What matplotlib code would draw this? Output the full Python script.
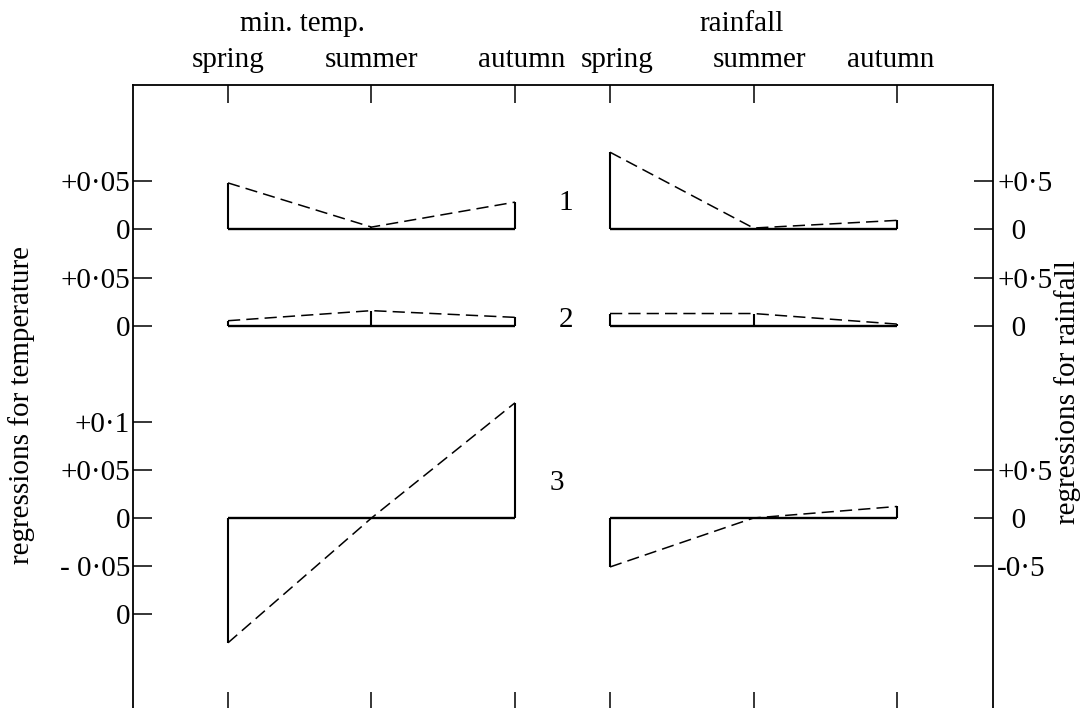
import numpy as np
import matplotlib.pyplot as plt
from matplotlib.transforms import ScaledTranslation

plt.rcParams['font.family'] = ['Liberation Serif', 'DejaVu Serif']

# Data
seasons = ['spring', 'summer', 'autumn']
temp_coef = [[0.048, 0.002, 0.028],
             [0.0055, 0.016, 0.009],
             [-0.13, 0.0, 0.12]]
rain_coef = [[0.80, 0.01, 0.09],
             [0.13, 0.13, 0.02],
             [-0.51, 0.0, 0.12]]
temp_ticks = [[0, 0.05], [0, 0.05], [-0.1, -0.05, 0, 0.05, 0.1]]
temp_ticklabels = [['0', '+0\u00b705'], ['0', '+0\u00b705'],
                   ['0', '- 0\u00b705', '0', '+0\u00b705', '+0\u00b71']]
rain_ticks = [[0, 0.5], [0, 0.5], [-0.5, 0, 0.5]]
rain_ticklabels = [['\u20020', '+0\u00b75'], ['\u20020', '+0\u00b75'],
                   ['-0\u00b75', '\u20020', '+0\u00b75']]
panel_names = ['1', '2', '3']

# Layout (pixels)
W, H = 1091, 708
frame_l, frame_r, frame_t, frame_b = 133, 993, 85, 735
mid = 562
row_base = [229, 326, 518]
temp_px = 960.0   # px per unit of temperature regression
rain_px = 96.0    # px per unit of rainfall regression
dx = 143.5
x0_left, x0_right = 228, 610
label_shift = [[0, 0, 7], [7, 6, -6]]  # small offsets of the season labels (px)
fs = 21

fig = plt.figure(figsize=(W / 100, H / 100), dpi=100)


def fig_rect(l, r, t, b):
    return [l / W, 1 - b / H, (r - l) / W, (b - t) / H]


# outer frame
frame = fig.add_axes(fig_rect(frame_l, frame_r, frame_t, frame_b))
frame.set_xticks([])
frame.set_yticks([])
for s in frame.spines.values():
    s.set_linewidth(1.3)
frame.patch.set_alpha(0)

tick_kw = dict(direction='in', length=13.5, width=1.1, labelsize=fs)

for side in range(2):
    for row in range(3):
        if side == 0:
            rect = fig_rect(frame_l, mid, frame_t, frame_b)
            px = temp_px
            vals = temp_coef[row]
            x0 = x0_left
            lo, hi = frame_l, mid
        else:
            rect = fig_rect(mid, frame_r, frame_t, frame_b)
            px = rain_px
            vals = rain_coef[row]
            x0 = x0_right
            lo, hi = mid, frame_r
        ax = fig.add_axes(rect)
        ax.patch.set_alpha(0)
        for s in ax.spines.values():
            s.set_visible(False)
        base = row_base[row]
        ax.set_ylim(-(frame_b - base) / px, (base - frame_t) / px)
        ax.set_xlim(-(x0 - lo) / dx, (hi - x0) / dx)

        xs = np.arange(len(seasons))
        ax.plot([xs[0], xs[-1]], [0, 0], color='black', lw=1.7, solid_capstyle='butt')
        ax.vlines(xs, 0, vals, colors='black', lw=1.5)
        ax.plot(xs, vals, color='black', lw=1.1, linestyle=(0, (8, 4)))

        if side == 0:
            ax.set_yticks(temp_ticks[row])
            ax.set_yticklabels(temp_ticklabels[row])
            ax.tick_params(axis='y', pad=2, **tick_kw)
        else:
            ax.yaxis.tick_right()
            ax.set_yticks(rain_ticks[row])
            ax.set_yticklabels(rain_ticklabels[row])
            ax.tick_params(axis='y', pad=3, **tick_kw)

        if row == 0:
            ax.xaxis.tick_top()
            ax.set_xticks(xs)
            ax.set_xticklabels(seasons)
            ax.tick_params(axis='x', direction='in', length=13, width=1.1,
                           labelsize=fs, pad=8.5)
            for tick, off in zip(ax.xaxis.get_major_ticks(), label_shift[side]):
                tick.label2.set_transform(tick.label2.get_transform() +
                                          ScaledTranslation(off / 100, 0, fig.dpi_scale_trans))
        elif row == 2:
            ax.set_xticks(xs)
            ax.set_xticklabels([])
            ax.tick_params(axis='x', direction='in', length=31, width=1.1)
        else:
            ax.set_xticks([])

# panel numbers
fig.text(566 / W, 1 - 203 / H, panel_names[0], fontsize=fs, ha='center', va='center')
fig.text(566 / W, 1 - 320 / H, panel_names[1], fontsize=fs, ha='center', va='center')
fig.text(557 / W, 1 - 483 / H, panel_names[2], fontsize=fs, ha='center', va='center')

# group titles and axis titles
fig.text(302 / W, 1 - 31 / H, 'min. temp.', fontsize=fs, ha='center', va='baseline')
fig.text(742 / W, 1 - 31 / H, 'rainfall', fontsize=fs, ha='center', va='baseline')
fig.text(22 / W, 1 - 405 / H, 'regressions for temperature', fontsize=fs,
         rotation=90, ha='center', va='center')
fig.text(1068 / W, 1 - 392 / H, 'regressions for rainfall', fontsize=fs,
         rotation=90, ha='center', va='center')

fig.savefig('out.png', dpi=100)
